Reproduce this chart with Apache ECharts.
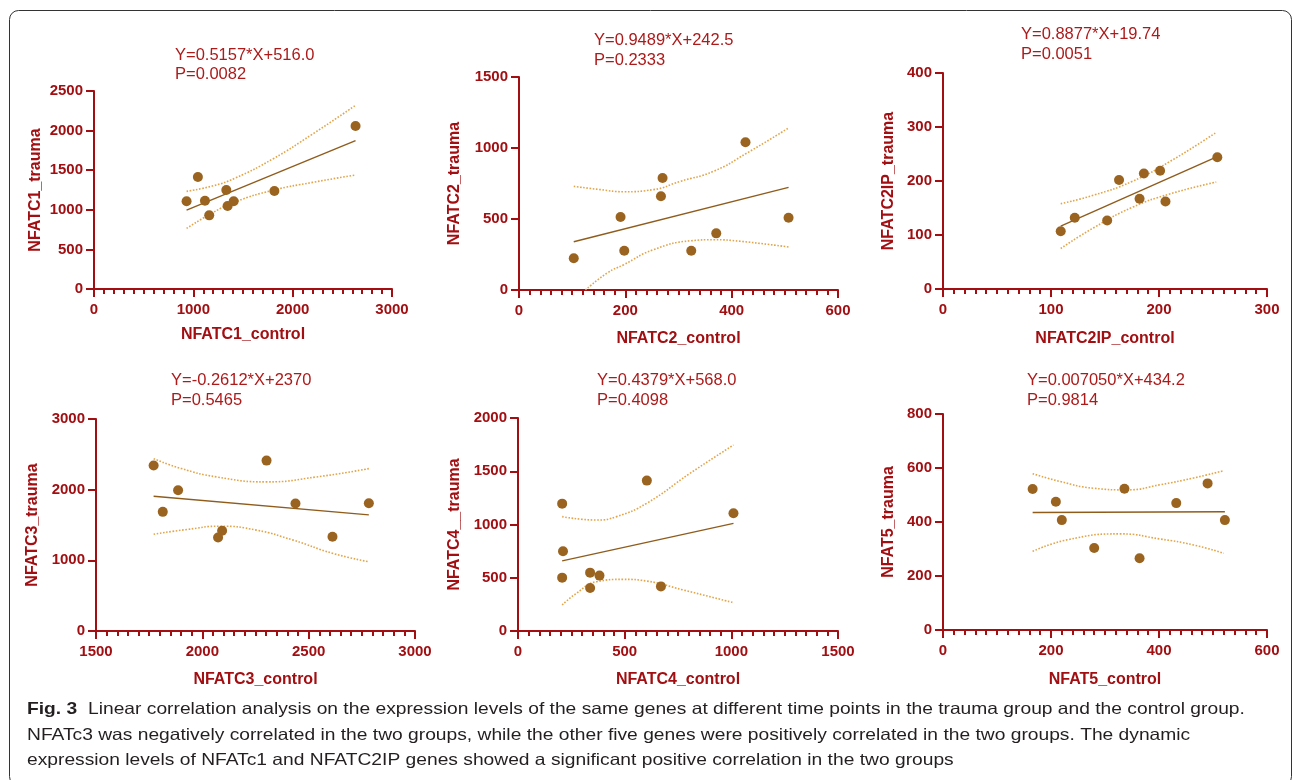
<!DOCTYPE html>
<html>
<head>
<meta charset="utf-8">
<script src="https://cdn.jsdelivr.net/npm/echarts@6/dist/echarts.min.js"></script>
<style>
html,body{margin:0;padding:0;background:#fff;}
#chart{width:1293px;height:780px;}
</style>
</head>
<body>
<div id="chart"></div>
<script>
// ---------- DATA ----------
const genes = ['NFATC1', 'NFATC2', 'NFATC2IP', 'NFATC3', 'NFATC4', 'NFAT5'];
const xNames = ['NFATC1_control', 'NFATC2_control', 'NFATC2IP_control', 'NFATC3_control', 'NFATC4_control', 'NFAT5_control'];
const yNames = ['NFATC1_trauma', 'NFATC2_trauma', 'NFATC2IP_trauma', 'NFATC3_trauma', 'NFATC4__trauma', 'NFAT5_trauma'];
const equations = ['Y=0.5157*X+516.0', 'Y=0.9489*X+242.5', 'Y=0.8877*X+19.74', 'Y=-0.2612*X+2370', 'Y=0.4379*X+568.0', 'Y=0.007050*X+434.2'];
const pValues = ['P=0.0082', 'P=0.2333', 'P=0.0051', 'P=0.5465', 'P=0.4098', 'P=0.9814'];

// axis ranges [min, max, interval]
const xRanges = [[0, 3000, 1000], [0, 600, 200], [0, 300, 100], [1500, 3000, 500], [0, 1500, 500], [0, 600, 200]];
const yRanges = [[0, 2500, 500], [0, 1500, 500], [0, 400, 100], [0, 3000, 1000], [0, 2000, 500], [0, 800, 200]];

// scatter points
const c1X = [932, 1046, 1117, 1160, 1332, 1345, 1406, 1816, 2633];
const c1Y = [1107, 1414, 1115, 930, 1250, 1048, 1107, 1237, 2058];
const c2X = [103, 191, 198, 267, 270, 324, 371, 426, 507];
const c2Y = [223, 514, 277, 660, 789, 277, 399, 1040, 509];
const c2ipX = [109, 122, 152, 163, 182, 186, 201, 206, 254];
const c2ipY = [107, 132, 127, 202, 167, 214, 219, 162, 244];
const c3X = [1771, 1814, 1886, 2074, 2093, 2302, 2438, 2612, 2783];
const c3Y = [2341, 1686, 1992, 1323, 1418, 2411, 1804, 1333, 1808];
const c4X = [207, 211, 207, 338, 338, 382, 604, 670, 1010];
const c4Y = [1196, 748, 501, 548, 404, 520, 1412, 419, 1105];
const c5X = [166, 209, 220, 280, 336, 364, 432, 490, 522];
const c5Y = [522, 475, 407, 304, 523, 266, 470, 543, 407];

// regression line end points
const fit1X = [932, 2633], fit1Y = [997, 1874];
const fit2X = [103, 507], fit2Y = [340, 723];
const fit2ipX = [109, 254], fit2ipY = [116.5, 245.2];
const fit3X = [1771, 2783], fit3Y = [1907, 1643];
const fit4X = [207, 1010], fit4Y = [659, 1010];
const fit5X = [166, 522], fit5Y = [435.4, 437.9];

// 95% confidence band
const up1X = [932, 1200, 1421, 1800, 2200, 2633], up1Y = [1233, 1303, 1400, 1642, 1956, 2319];
const lo1X = [932, 1200, 1421, 1800, 2200, 2633], lo1Y = [765, 967, 1100, 1246, 1346, 1439];
const up2X = [103, 153, 197, 253, 303, 366, 429, 507], up2Y = [730, 707, 692, 707, 765, 836, 965, 1141];
const lo2X = [125, 166, 197, 253, 324, 366, 416, 507], lo2Y = [0, 120, 178, 284, 347, 354, 343, 303];
const up2ipX = [109, 140, 175, 210, 253], up2ipY = [158, 174, 199, 236, 290];
const lo2ipX = [109, 140, 175, 210, 253], lo2ipY = [75, 114, 151, 176, 198];
const up3X = [1771, 1900, 2068, 2302, 2537, 2783], up3Y = [2439, 2300, 2180, 2110, 2180, 2298];
const lo3X = [1771, 1927, 2083, 2255, 2427, 2615, 2783], lo3Y = [1370, 1436, 1483, 1427, 1286, 1097, 980];
const up4X = [207, 368, 462, 603, 806, 1010], up4Y = [1074, 1042, 1074, 1199, 1480, 1746];
const lo4X = [207, 274, 368, 493, 603, 775, 1010], lo4Y = [244, 354, 463, 485, 469, 385, 266];
const up5X = [166, 217, 279, 341, 402, 464, 520], up5Y = [579, 550, 525, 519, 538, 563, 590];
const lo5X = [166, 230, 328, 402, 464, 520], lo5Y = [291, 334, 356, 337, 315, 284];

const captionBold = 'Fig. 3';
const captionLines = [
  'Linear correlation analysis on the expression levels of the same genes at different time points in the trauma group and the control group.',
  'NFATc3 was negatively correlated in the two groups, while the other five genes were positively correlated in the two groups. The dynamic',
  'expression levels of NFATc1 and NFATC2IP genes showed a significant positive correlation in the two groups'
];

// ---------- LAYOUT ----------
const panels = [
  {grid: {left: 94, top: 91, width: 298, height: 198}, yGap: 50, xGap: 38, eq: [175, 56, 75]},
  {grid: {left: 519, top: 77, width: 319, height: 213}, yGap: 56, xGap: 41, eq: [594, 41, 61]},
  {grid: {left: 943, top: 73, width: 324, height: 216}, yGap: 46, xGap: 42, eq: [1021, 35, 55]},
  {grid: {left: 96, top: 419, width: 319, height: 212}, yGap: 55, xGap: 41, eq: [171, 381, 401]},
  {grid: {left: 518, top: 418, width: 320, height: 213}, yGap: 55, xGap: 41, eq: [597, 381, 401]},
  {grid: {left: 943, top: 414, width: 324, height: 216}, yGap: 46, xGap: 42, eq: [1027, 381, 401]}
];
const pts = [[c1X, c1Y], [c2X, c2Y], [c2ipX, c2ipY], [c3X, c3Y], [c4X, c4Y], [c5X, c5Y]];
const fits = [[fit1X, fit1Y], [fit2X, fit2Y], [fit2ipX, fit2ipY], [fit3X, fit3Y], [fit4X, fit4Y], [fit5X, fit5Y]];
const ups = [[up1X, up1Y], [up2X, up2Y], [up2ipX, up2ipY], [up3X, up3Y], [up4X, up4Y], [up5X, up5Y]];
const los = [[lo1X, lo1Y], [lo2X, lo2Y], [lo2ipX, lo2ipY], [lo3X, lo3Y], [lo4X, lo4Y], [lo5X, lo5Y]];

const AX = '#a20f12';
const EQ = '#ad1a1a';
const PT = '#9a6420';
const LN = '#8f5c1c';
const BD = '#e3a54a';
const FONT = '"Liberation Sans", Arial, sans-serif';
const zip = (a, b) => a.map((v, i) => [v, b[i]]);
const plain = (v) => String(v);

const grids = [], xAxes = [], yAxes = [], series = [], graphics = [];
panels.forEach((p, i) => {
  grids.push(Object.assign({containLabel: false}, p.grid));
  xAxes.push({
    type: 'value', gridIndex: i, min: xRanges[i][0], max: xRanges[i][1], interval: xRanges[i][2],
    name: xNames[i], nameLocation: 'middle', nameGap: p.xGap,
    nameTextStyle: {color: AX, fontWeight: 'bold', fontSize: 16, fontFamily: FONT},
    axisLine: {show: true, onZero: false, lineStyle: {color: AX, width: 2}},
    axisTick: {show: true, inside: false, length: 8, lineStyle: {color: AX, width: 2}},
    minorTick: {show: true, splitNumber: 10, length: 5, lineStyle: {color: AX, width: 2}},
    axisLabel: {color: AX, fontWeight: 'bold', fontSize: 15, margin: 13, fontFamily: FONT, formatter: plain},
    splitLine: {show: false}, minorSplitLine: {show: false}
  });
  yAxes.push({
    type: 'value', gridIndex: i, min: yRanges[i][0], max: yRanges[i][1], interval: yRanges[i][2],
    name: yNames[i], nameLocation: 'middle', nameGap: p.yGap,
    nameTextStyle: {color: AX, fontWeight: 'bold', fontSize: 16, fontFamily: FONT},
    axisLine: {show: true, onZero: false, lineStyle: {color: AX, width: 2}},
    axisTick: {show: true, inside: false, length: 8, lineStyle: {color: AX, width: 2}},
    axisLabel: {color: AX, fontWeight: 'bold', fontSize: 15, margin: 11, fontFamily: FONT, formatter: plain},
    splitLine: {show: false}
  });
  const band = (d) => ({
    type: 'line', xAxisIndex: i, yAxisIndex: i, data: zip(d[0], d[1]), smooth: 0.5,
    symbol: 'none', silent: true, clip: true,
    lineStyle: {color: BD, width: 1.6, type: [1.6, 1.6]}, z: 2
  });
  series.push(band(ups[i]));
  series.push(band(los[i]));
  series.push({
    type: 'line', xAxisIndex: i, yAxisIndex: i, data: zip(fits[i][0], fits[i][1]),
    symbol: 'none', silent: true, lineStyle: {color: LN, width: 1.4}, z: 3
  });
  series.push({
    type: 'scatter', xAxisIndex: i, yAxisIndex: i, data: zip(pts[i][0], pts[i][1]),
    symbol: 'circle', symbolSize: 10, itemStyle: {color: PT, opacity: 1}, z: 4
  });
  graphics.push({type: 'text', left: p.eq[0], top: p.eq[1] - 9,
    style: {text: equations[i], fill: EQ, font: '16.5px ' + FONT}});
  graphics.push({type: 'text', left: p.eq[0], top: p.eq[2] - 9,
    style: {text: pValues[i], fill: EQ, font: '16.5px ' + FONT}});
});

// frame
graphics.push({type: 'rect', shape: {x: 9.5, y: 10.5, width: 1282, height: 775, r: 9},
  style: {fill: 'none', stroke: '#333', lineWidth: 1}, z: -1});
// caption
const capFont = '16.5px ' + FONT;
const SX = 1.165;
graphics.push({type: 'text', x: 27, y: 701, scaleX: SX,
  style: {text: captionBold, fill: '#231f20', font: 'bold 16.5px ' + FONT}});
graphics.push({type: 'text', x: 88, y: 701, scaleX: SX, style: {text: captionLines[0], fill: '#231f20', font: capFont}});
graphics.push({type: 'text', x: 27, y: 727, scaleX: SX, style: {text: captionLines[1], fill: '#231f20', font: capFont}});
graphics.push({type: 'text', x: 27, y: 752, scaleX: SX, style: {text: captionLines[2], fill: '#231f20', font: capFont}});

const chart = echarts.init(document.getElementById('chart'), null, {renderer: 'canvas'});
chart.setOption({
  animation: false,
  backgroundColor: '#ffffff',
  grid: grids, xAxis: xAxes, yAxis: yAxes, series: series, graphic: graphics
});
</script>
</body>
</html>
